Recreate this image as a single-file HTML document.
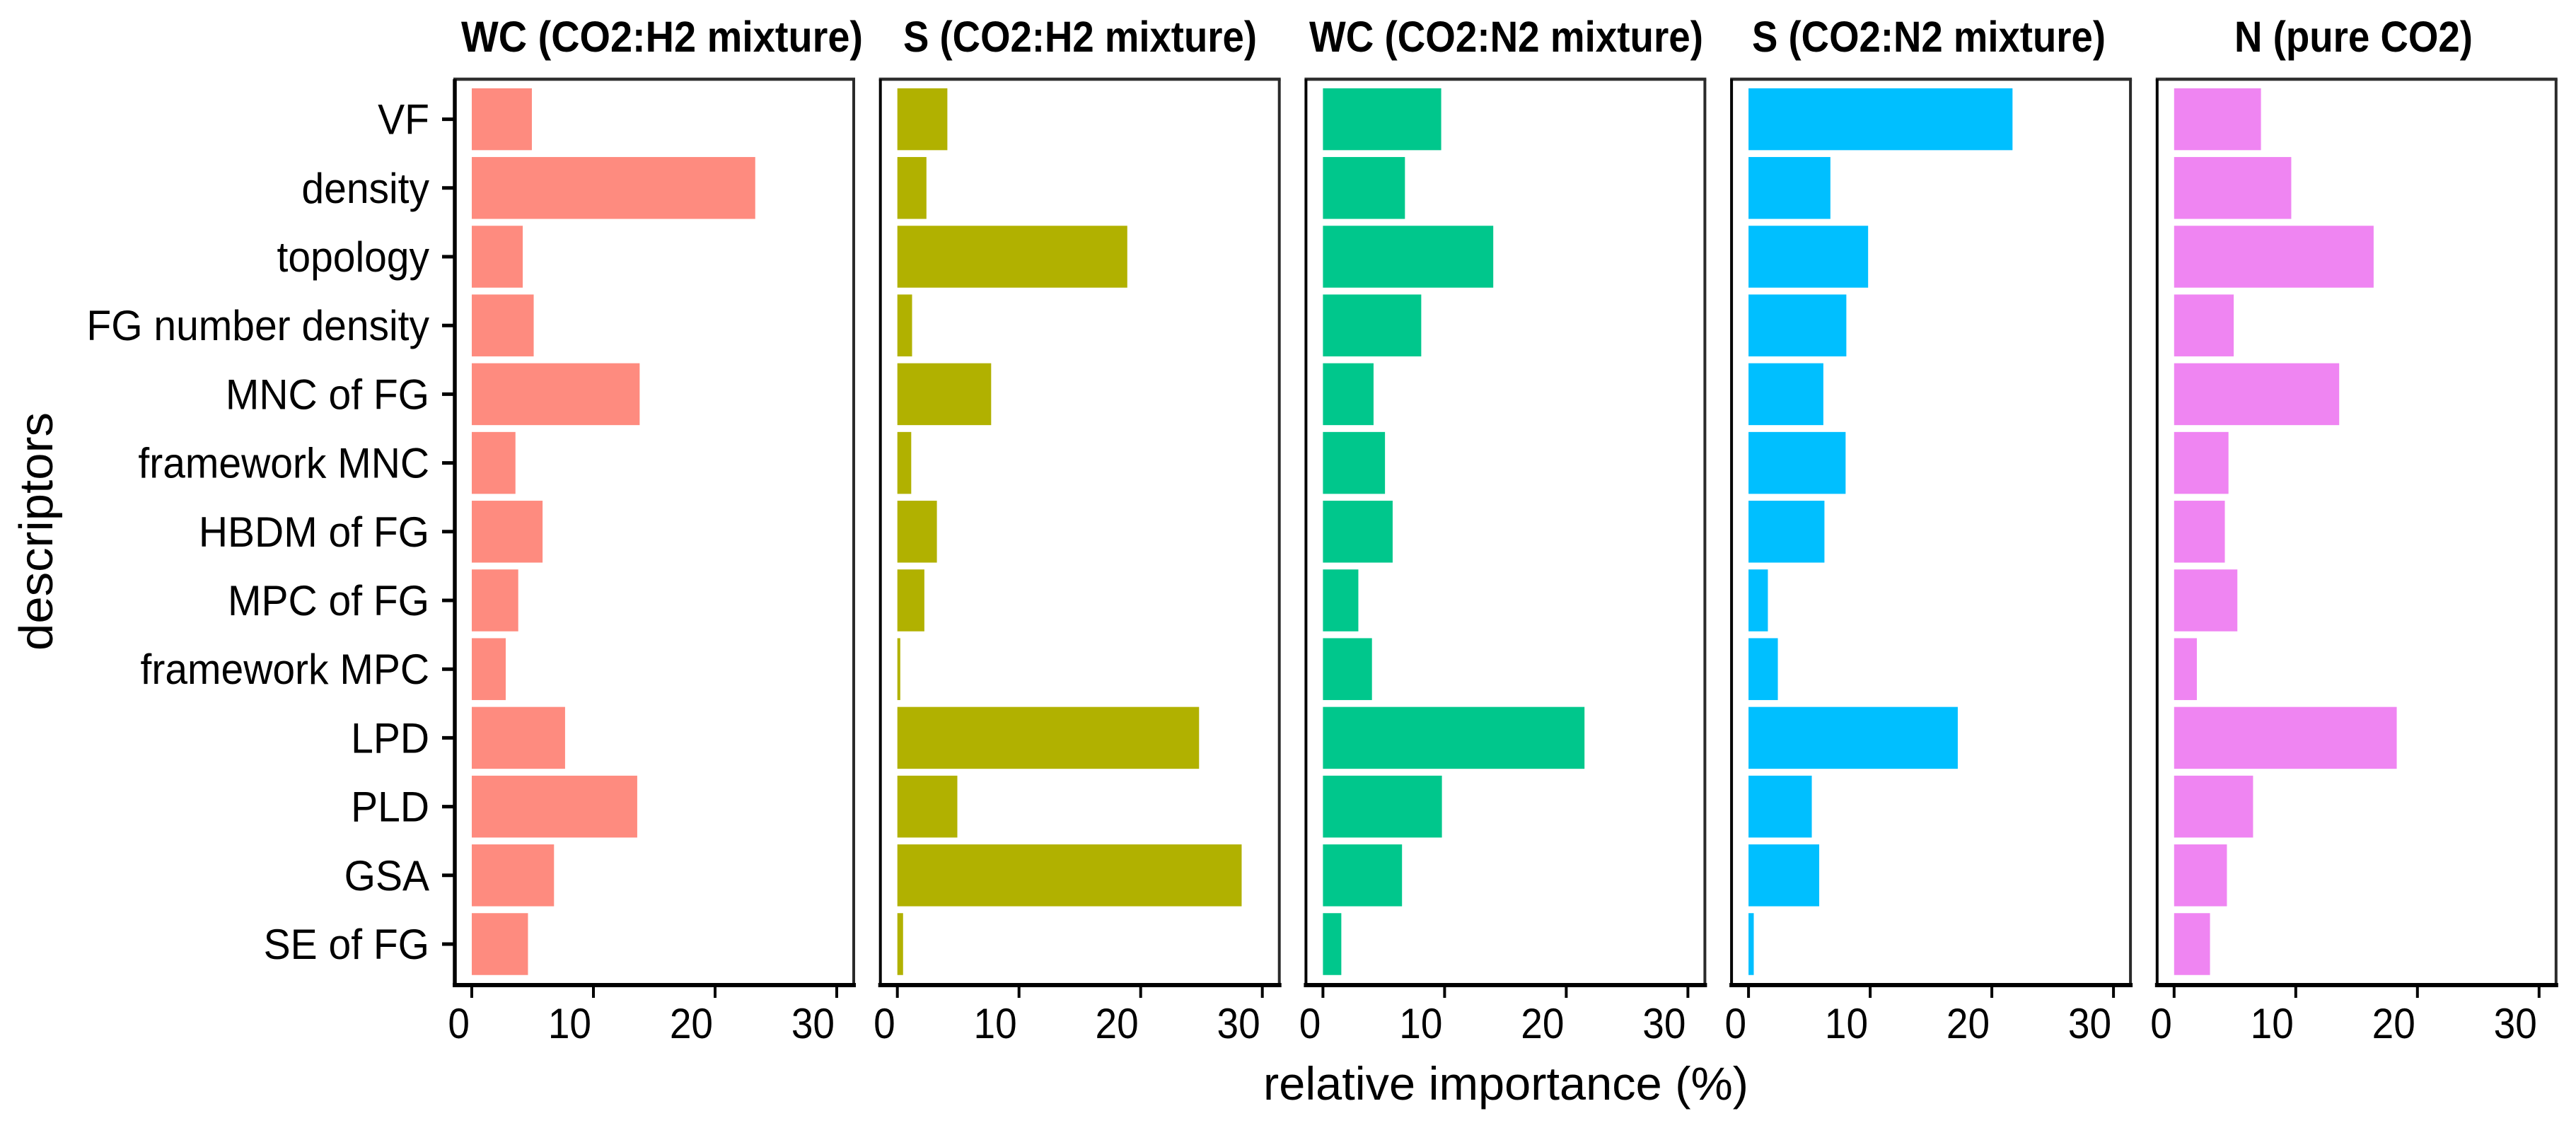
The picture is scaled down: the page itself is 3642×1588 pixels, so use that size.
<!DOCTYPE html>
<html lang="en">
<head>
<meta charset="utf-8">
<title>Relative importance of descriptors</title>
<style>
html,body{margin:0;padding:0;background:#fff;}
svg{display:block;}
text{font-family:"Liberation Sans",Arial,sans-serif;fill:#000;}
</style>
</head>
<body>
<svg id="chart" xmlns="http://www.w3.org/2000/svg" width="3642" height="1588" viewBox="0 0 3642 1588">
  <rect x="0" y="0" width="3642" height="1588" fill="#ffffff"/>
  <text x="652" y="73" font-size="61" font-weight="700" textLength="568" lengthAdjust="spacingAndGlyphs">WC (CO2:H2 mixture)</text>
  <text x="1277" y="73" font-size="61" font-weight="700" textLength="500" lengthAdjust="spacingAndGlyphs">S (CO2:H2 mixture)</text>
  <text x="1851" y="73" font-size="61" font-weight="700" textLength="557" lengthAdjust="spacingAndGlyphs">WC (CO2:N2 mixture)</text>
  <text x="2477" y="73" font-size="61" font-weight="700" textLength="500" lengthAdjust="spacingAndGlyphs">S (CO2:N2 mixture)</text>
  <text x="3159" y="73" font-size="61" font-weight="700" textLength="337" lengthAdjust="spacingAndGlyphs">N (pure CO2)</text>
  <text x="1786" y="1555" font-size="66" textLength="686" lengthAdjust="spacingAndGlyphs">relative importance (%)</text>
  <text transform="translate(74 920) rotate(-90)" x="0" y="0" font-size="67" textLength="337" lengthAdjust="spacingAndGlyphs">descriptors</text>
  <g id="panels"></g>
</svg>
<script>
const categories = ["VF","density","topology","FG number density","MNC of FG","framework MNC","HBDM of FG","MPC of FG","framework MPC","LPD","PLD","GSA","SE of FG"];
const wcH2Values = [4.94,23.3,4.19,5.09,13.8,3.59,5.82,3.82,2.79,7.67,13.6,6.76,4.62];
const sH2Values = [4.11,2.39,18.9,1.21,7.71,1.14,3.25,2.22,0.24,24.8,4.93,28.3,0.47];
const wcN2Values = [9.72,6.74,14.0,8.08,4.16,5.1,5.73,2.91,4.03,21.5,9.78,6.5,1.51];
const sN2Values = [21.7,6.73,9.83,8.04,6.15,7.98,6.24,1.59,2.41,17.2,5.2,5.81,0.43];
const nCo2Values = [7.14,9.63,16.4,4.9,13.57,4.47,4.17,5.2,1.87,18.3,6.49,4.34,2.95];
const seriesValues = [wcH2Values,sH2Values,wcN2Values,sN2Values,nCo2Values];
const seriesKeys = ["wc-h2","s-h2","wc-n2","s-n2","n-co2"];
const seriesColors = ["#FE8B7F","#B1B100","#00C78C","#00BFFF","#EF85F2"];
const xTickValues = [0,10,20,30];

const SVG_NS = "http://www.w3.org/2000/svg";
const root = document.getElementById("panels");
const PANEL_ZERO = 667, PANEL_PITCH = 601.7, PX_PER_UNIT = 17.2;
const FRAME_LEFT = -24, FRAME_RIGHT = 540, FRAME_TOP = 112, FRAME_BOTTOM = 1393;
const CAT_FIRST = 168.6, CAT_STEP = 97.2, BAR_HEIGHT = 87.5;

function xScale(panel, v){ return PANEL_ZERO + panel * PANEL_PITCH + v * PX_PER_UNIT; }
function yScale(i){ return CAT_FIRST + i * CAT_STEP; }
function make(tag, attrs, parent){
  const el = document.createElementNS(SVG_NS, tag);
  for (const k in attrs) el.setAttribute(k, attrs[k]);
  parent.appendChild(el);
  return el;
}

seriesValues.forEach(function(values, p){
  const key = seriesKeys[p];
  const g = make("g", {}, root);
  
  
  const x0 = xScale(p, 0);
  const left = x0 + FRAME_LEFT, right = x0 + FRAME_RIGHT;

  values.forEach(function(v, i){
    const bar = make("rect", {x:x0, y:yScale(i) - BAR_HEIGHT / 2, width:xScale(p, v) - x0, height:BAR_HEIGHT, fill:seriesColors[p]}, g);
    
    
  });

  const top = make("line", {x1:left - 2, x2:right + 2, y1:FRAME_TOP, y2:FRAME_TOP, stroke:"#2f2f2f", "stroke-width":4.5}, g);
  
  
  const rightLine = make("line", {x1:right, x2:right, y1:FRAME_TOP, y2:FRAME_BOTTOM, stroke:"#2a2a2a", "stroke-width":4}, g);
  
  
  const leftLine = make("line", {x1:left, x2:left, y1:FRAME_TOP, y2:FRAME_BOTTOM, stroke:"#000", "stroke-width":p === 0 ? 5.5 : 4}, g);
  
  
  const bottom = make("line", {x1:left - 3, x2:right + 3, y1:FRAME_BOTTOM, y2:FRAME_BOTTOM, stroke:"#000", "stroke-width":6}, g);
  
  

  xTickValues.forEach(function(t){
    const tx = xScale(p, t);
    const tick = make("line", {x1:tx, x2:tx, y1:FRAME_BOTTOM, y2:FRAME_BOTTOM + 18, stroke:"#000", "stroke-width":4}, g);
    
    
    const label = make("text", {transform:"translate(" + (tx - 3) + " 1468) scale(1 1.1)", x:0, y:0, "font-size":55, "text-anchor":"end"}, g);
    label.textContent = String(t);
    
    
  });

  if (p === 0) {
    categories.forEach(function(c, i){
      const y = yScale(i);
      const tick = make("line", {x1:left - 18, x2:left, y1:y, y2:y, stroke:"#000", "stroke-width":5}, g);
      
      
      const label = make("text", {transform:"translate(607 " + (y + 21) + ") scale(1 1.06)", x:0, y:0, "font-size":57, "text-anchor":"end"}, g);
      label.textContent = c;
      
      
    });
  }
});
</script>
</body>
</html>
